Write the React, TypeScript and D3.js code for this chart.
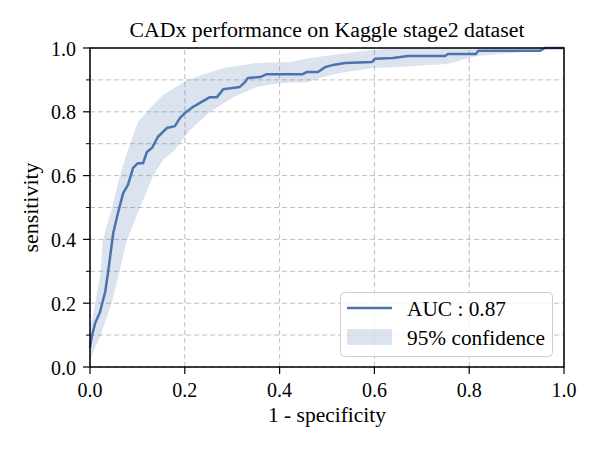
import * as d3 from "d3";

// ROC curve (false positive rate, true positive rate)
const rocFpr = [0, 0.004, 0.011, 0.021, 0.032, 0.038, 0.049, 0.059, 0.07, 0.08, 0.091, 0.101, 0.112, 0.12, 0.131, 0.143, 0.162, 0.179, 0.19, 0.2, 0.217, 0.232, 0.253, 0.268, 0.281, 0.316, 0.327, 0.333, 0.359, 0.373, 0.449, 0.458, 0.481, 0.496, 0.513, 0.538, 0.595, 0.601, 0.639, 0.671, 0.749, 0.755, 0.814, 0.819, 0.949, 0.96, 1.0];
const rocTpr = [0.06, 0.097, 0.138, 0.172, 0.235, 0.295, 0.42, 0.483, 0.545, 0.571, 0.624, 0.639, 0.639, 0.674, 0.687, 0.721, 0.749, 0.755, 0.781, 0.796, 0.815, 0.828, 0.846, 0.846, 0.871, 0.878, 0.893, 0.906, 0.909, 0.918, 0.918, 0.925, 0.925, 0.94, 0.947, 0.953, 0.956, 0.966, 0.969, 0.975, 0.975, 0.981, 0.981, 0.991, 0.991, 1.0, 1.0];

// 95% confidence band, upper and lower edges
const upperFpr = [0, 0.011, 0.023, 0.027, 0.046, 0.063, 0.08, 0.101, 0.127, 0.154, 0.205, 0.281, 0.352, 0.422, 0.464, 0.527, 0.597, 0.654, 1.0];
const upperTpr = [0.116, 0.201, 0.304, 0.398, 0.498, 0.599, 0.68, 0.768, 0.812, 0.853, 0.9, 0.937, 0.953, 0.956, 0.969, 0.981, 0.994, 1.0, 1.0];
const lowerFpr = [0, 0.004, 0.021, 0.046, 0.063, 0.078, 0.105, 0.133, 0.154, 0.179, 0.211, 0.253, 0.302, 0.352, 0.401, 0.458, 0.492, 0.527, 0.597, 0.639, 0.753, 0.816, 0.907, 0.96, 1.0];
const lowerTpr = [0.016, 0.038, 0.094, 0.201, 0.304, 0.398, 0.498, 0.599, 0.649, 0.68, 0.743, 0.799, 0.846, 0.878, 0.89, 0.893, 0.909, 0.922, 0.937, 0.94, 0.95, 0.975, 0.987, 0.997, 1.0];

const xTicks = [0, 0.2, 0.4, 0.6, 0.8, 1.0];
const yTicks = [0, 0.2, 0.4, 0.6, 0.8, 1.0];
const yMinor = [0.1, 0.3, 0.5, 0.7, 0.9];

const W = 600;
const H = 450;
const m = { left: 90, top: 48, right: 36, bottom: 83 };
const FONT = "'Liberation Serif', 'DejaVu Serif', serif";
const FS = 20;
const BLUE = "#4c72b0";

export default function App() {
  const x = d3.scaleLinear().domain([0, 1]).range([m.left, W - m.right]);
  const y = d3.scaleLinear().domain([0, 1]).range([H - m.bottom, m.top]);

  const roc: [number, number][] = rocFpr.map((f, i) => [f, rocTpr[i]]);
  const upper: [number, number][] = upperFpr.map((f, i) => [f, upperTpr[i]]);
  const lower: [number, number][] = lowerFpr.map((f, i) => [f, lowerTpr[i]]);
  const band = [...upper, ...lower.slice().reverse()];

  const line = d3.line<[number, number]>().x((d) => x(d[0])).y((d) => y(d[1]));

  const gridColor = "#b0b0b0";
  const [x0, x1] = x.range();
  const [y0, y1] = y.range();

  return (
    <svg width={W} height={H} style={{ position: "absolute", left: 0, top: 0, background: "#fff" }} fontFamily={FONT}>
      <text x={(x0 + x1) / 2} y={37} textAnchor="middle" fontSize={FS} textLength={395} lengthAdjust="spacingAndGlyphs">
        CADx performance on Kaggle stage2 dataset
      </text>

      {/* grid */}
      {[...yTicks, ...yMinor].map((t) => (
        <line key={"gy" + t} x1={x0} x2={x1} y1={y(t)} y2={y(t)} stroke={gridColor} strokeWidth={1} strokeDasharray="5,3" opacity={0.8} />
      ))}
      {xTicks.map((t) => (
        <line key={"gx" + t} x1={x(t)} x2={x(t)} y1={y0} y2={y1} stroke={gridColor} strokeWidth={1} strokeDasharray="5,3" opacity={0.8} />
      ))}

      <path d={line(band) + "Z"} fill={BLUE} fillOpacity={0.2} stroke="none" />
      <path d={line(roc) ?? ""} fill="none" stroke={BLUE} strokeWidth={2.5} strokeLinejoin="round" />

      {/* spines */}
      <rect x={x0} y={y1} width={x1 - x0} height={y0 - y1} fill="none" stroke="#000" strokeWidth={1.5} />

      {/* ticks */}
      {xTicks.map((t) => (
        <g key={"xt" + t}>
          <line x1={x(t)} x2={x(t)} y1={y0} y2={y0 + 7} stroke="#000" strokeWidth={1.2} />
          <text x={x(t)} y={397} textAnchor="middle" fontSize={FS}>
            {t.toFixed(1)}
          </text>
        </g>
      ))}
      {yTicks.map((t) => (
        <g key={"yt" + t}>
          <line x1={x0 - 7} x2={x0} y1={y(t)} y2={y(t)} stroke="#000" strokeWidth={1.2} />
          <text x={76} y={y(t) + 7.5} textAnchor="end" fontSize={FS}>
            {t.toFixed(1)}
          </text>
        </g>
      ))}
      {yMinor.map((t) => (
        <line key={"ym" + t} x1={x0 - 4} x2={x0} y1={y(t)} y2={y(t)} stroke="#000" strokeWidth={1} />
      ))}

      <text x={(x0 + x1) / 2} y={422} textAnchor="middle" fontSize={FS} textLength={118} lengthAdjust="spacingAndGlyphs">
        1 - specificity
      </text>
      <text transform={`translate(38,${(y0 + y1) / 2}) rotate(-90)`} textAnchor="middle" fontSize={FS} textLength={90} lengthAdjust="spacingAndGlyphs">
        sensitivity
      </text>

      {/* legend */}
      <g>
        <rect x={340.5} y={292.5} width={212} height={64} rx={4} fill="#fff" fillOpacity={0.8} stroke="#cccccc" strokeWidth={1} />
        <line x1={347} x2={392} y1={308} y2={308} stroke={BLUE} strokeWidth={2.5} />
        <text x={407} y={316} fontSize={FS} textLength={99} lengthAdjust="spacingAndGlyphs">AUC : 0.87</text>
        <rect x={347} y={329} width={45} height={16} fill={BLUE} fillOpacity={0.2} />
        <text x={407} y={345} fontSize={FS} textLength={138} lengthAdjust="spacingAndGlyphs">95% confidence</text>
      </g>
    </svg>
  );
}
